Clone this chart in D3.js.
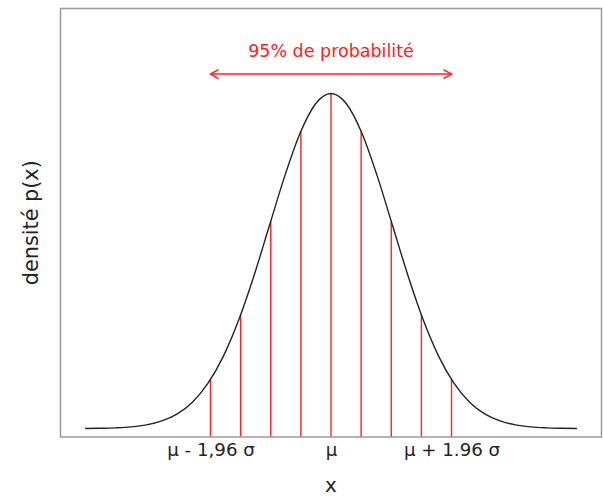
<!DOCTYPE html>
<html>
<head>
<meta charset="utf-8">
<script src="https://cdn.jsdelivr.net/npm/d3@7"></script>
<style>
  body { margin: 0; background: #fff; }
  svg { display: block; font-family: "DejaVu Sans", sans-serif; }
</style>
</head>
<body>
<div id="chart"></div>
<script>
// curve points (x in units of sigma, density)
var curveX = [-4, -3.75, -3.5, -3.25, -3, -2.75, -2.5, -2.25, -2, -1.75, -1.5, -1.25, -1, -0.75, -0.5, -0.25,
              0, 0.25, 0.5, 0.75, 1, 1.25, 1.5, 1.75, 2, 2.25, 2.5, 2.75, 3, 3.25, 3.5, 3.75, 4];
var curveY = [0.0001, 0.0004, 0.0009, 0.0020, 0.0044, 0.0091, 0.0175, 0.0317, 0.0540, 0.0863, 0.1295, 0.1826, 0.2420, 0.3011, 0.3521, 0.3867,
              0.3989, 0.3867, 0.3521, 0.3011, 0.2420, 0.1826, 0.1295, 0.0863, 0.0540, 0.0317, 0.0175, 0.0091, 0.0044, 0.0020, 0.0009, 0.0004, 0.0001];

// red vertical lines
var lineX = [-1.96, -1.47, -0.98, -0.49, 0, 0.49, 0.98, 1.47, 1.96];
var lineTop = [0.0584, 0.1354, 0.2468, 0.3538, 0.3989, 0.3538, 0.2468, 0.1354, 0.0584];

var tickValues = [-1.96, 0, 1.96];
var tickLabels = ["μ - 1,96 σ", "μ", "μ + 1.96 σ"];

var arrowFrom = -1.96, arrowTo = 1.96, arrowLevel = 0.422;
var annotation = "95% de probabilité";

var width = 603, height = 497;
var plotLeft = 60.5, plotRight = 601.5, plotTop = 8.5, plotBottom = 437;

var svg = d3.select("#chart").append("svg")
  .attr("width", width)
  .attr("height", height);

var x = d3.scaleLinear().domain([-4.4, 4.4]).range([plotLeft, plotRight]);
var y = d3.scaleLinear().domain([-0.01, 0.5]).range([plotBottom, plotTop]);

// red lines from axis bottom up to the curve
svg.selectAll("line.red")
  .data(lineX)
  .enter()
  .append("line")
  .attr("class", "red")
  .attr("x1", function(d) { return x(d); })
  .attr("x2", function(d) { return x(d); })
  .attr("y1", y(-0.01))
  .attr("y2", function(d, i) { return y(lineTop[i]); })
  .attr("stroke", "#ff2020")
  .attr("stroke-width", 1.4);

// density curve
var line = d3.line()
  .x(function(d, i) { return x(curveX[i]); })
  .y(function(d) { return y(d); })
  .curve(d3.curveMonotoneX);

svg.append("path")
  .datum(curveY)
  .attr("d", line)
  .attr("fill", "none")
  .attr("stroke", "#222")
  .attr("stroke-width", 1.4);

// frame
svg.append("rect")
  .attr("x", plotLeft)
  .attr("y", plotTop)
  .attr("width", plotRight - plotLeft)
  .attr("height", plotBottom - plotTop)
  .attr("fill", "none")
  .attr("stroke", "#9a9a9a")
  .attr("stroke-width", 1.5);

// x axis labels only
var xAxis = d3.axisBottom(x)
  .tickValues(tickValues)
  .tickFormat(function(d, i) { return tickLabels[i]; })
  .tickSize(0)
  .tickPadding(6);

var gx = svg.append("g")
  .attr("transform", "translate(0," + plotBottom + ")")
  .call(xAxis);
gx.select(".domain").remove();
gx.selectAll("text")
  .style("font-family", "DejaVu Sans, sans-serif")
  .style("font-size", "18.2px")
  .attr("fill", "#222");

// axis titles
svg.append("text")
  .attr("x", (plotLeft + plotRight) / 2)
  .attr("y", 492)
  .attr("text-anchor", "middle")
  .style("font-size", "20px")
  .attr("fill", "#222")
  .text("x");

svg.append("text")
  .attr("transform", "translate(37.5," + ((plotTop + plotBottom) / 2) + ") rotate(-90)")
  .attr("text-anchor", "middle")
  .style("font-size", "20.8px")
  .attr("fill", "#222")
  .text("densité p(x)");

// double-headed arrow
var ay = y(arrowLevel);
var x0 = x(arrowFrom), x1 = x(arrowTo);
svg.append("line")
  .attr("x1", x0).attr("x2", x1)
  .attr("y1", ay).attr("y2", ay)
  .attr("stroke", "#ff2020")
  .attr("stroke-width", 1.5);
svg.append("path")
  .attr("d", "M" + (x0 + 8) + "," + (ay - 4.5) + "L" + x0 + "," + ay + "L" + (x0 + 8) + "," + (ay + 4.5))
  .attr("fill", "none")
  .attr("stroke", "#ff2020")
  .attr("stroke-width", 1.5);
svg.append("path")
  .attr("d", "M" + (x1 - 8) + "," + (ay - 4.5) + "L" + x1 + "," + ay + "L" + (x1 - 8) + "," + (ay + 4.5))
  .attr("fill", "none")
  .attr("stroke", "#ff2020")
  .attr("stroke-width", 1.5);

svg.append("text")
  .attr("x", x(0))
  .attr("y", 57)
  .attr("text-anchor", "middle")
  .style("font-size", "17.5px")
  .attr("fill", "#ff2020")
  .text(annotation);
</script>
</body>
</html>
